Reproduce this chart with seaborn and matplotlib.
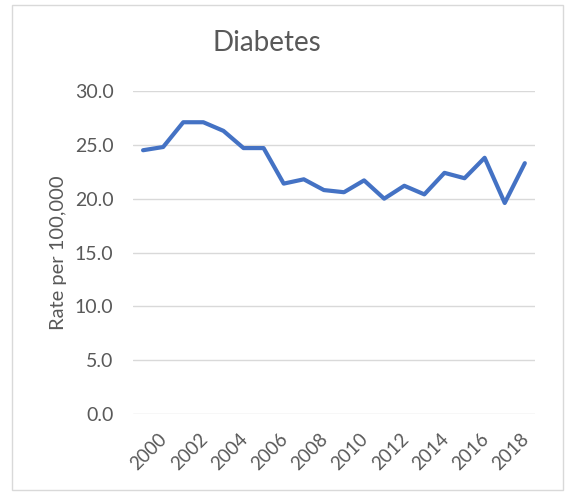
import numpy as np
import pandas as pd
import matplotlib
matplotlib.use("Agg")
import matplotlib.pyplot as plt
import matplotlib.transforms as mtransforms
from matplotlib.patches import Rectangle
import seaborn as sns

# data
years = list(range(2000, 2020))
rate = [24.5, 24.8, 27.1, 27.1, 26.3, 24.7, 24.7, 21.4, 21.8, 20.8,
        20.6, 21.7, 20.0, 21.2, 20.4, 22.4, 21.9, 23.8, 19.6, 23.3]
tick_years = list(range(2000, 2019, 2))
y_ticks = [0, 5, 10, 15, 20, 25, 30]

df = pd.DataFrame({"Year": years, "Rate": rate})

sns.set_style("white")
plt.rcParams["font.family"] = ["Lato", "DejaVu Sans"]
grey = "#595959"

fig = plt.figure(figsize=(5.66, 4.92), dpi=100)
ax = fig.add_axes([0.235, 0.1585, 0.71, 0.6565])

sns.lineplot(data=df, x="Year", y="Rate", ax=ax, color="#4472C4",
             linewidth=3.0, solid_capstyle="round")

ax.set_xlim(1999.5, 2019.5)
ax.set_ylim(0, 30)
ax.set_yticks(y_ticks)
ax.set_yticklabels([f"{v:.1f}" for v in y_ticks])
ax.set_xticks(tick_years)
ax.set_xticklabels([str(y) for y in tick_years], rotation=45, ha="center", va="top")

ax.grid(axis="y", color="#D9D9D9", linewidth=1.0)
ax.set_axisbelow(True)
for s in ax.spines.values():
    s.set_visible(False)
ax.tick_params(axis="y", length=0, pad=14, labelsize=14, labelcolor=grey)
ax.tick_params(axis="x", length=0, pad=12, labelsize=13.5, labelcolor=grey)

# nudge x labels slightly right like the reference
offset = mtransforms.ScaledTranslation(6 / 100, 0, fig.dpi_scale_trans)
for lbl in ax.get_xticklabels():
    lbl.set_transform(lbl.get_transform() + offset)

ax.set_xlabel("")
ax.set_ylabel("Rate per 100,000", fontsize=14.5, color=grey)
ax.yaxis.set_label_coords(-0.165, 0.5)

fig.text(267 / 566, 1 - 43 / 492, "Diabetes", ha="center", va="center",
         fontsize=20, color=grey)

# light chart border
fig.patches.append(Rectangle((12 / 566, 2 / 492), 551 / 566, 485 / 492,
                             transform=fig.transFigure, fill=False,
                             edgecolor="#D9D9D9", linewidth=1.0))

fig.savefig("out.png", dpi=100, facecolor="white")
